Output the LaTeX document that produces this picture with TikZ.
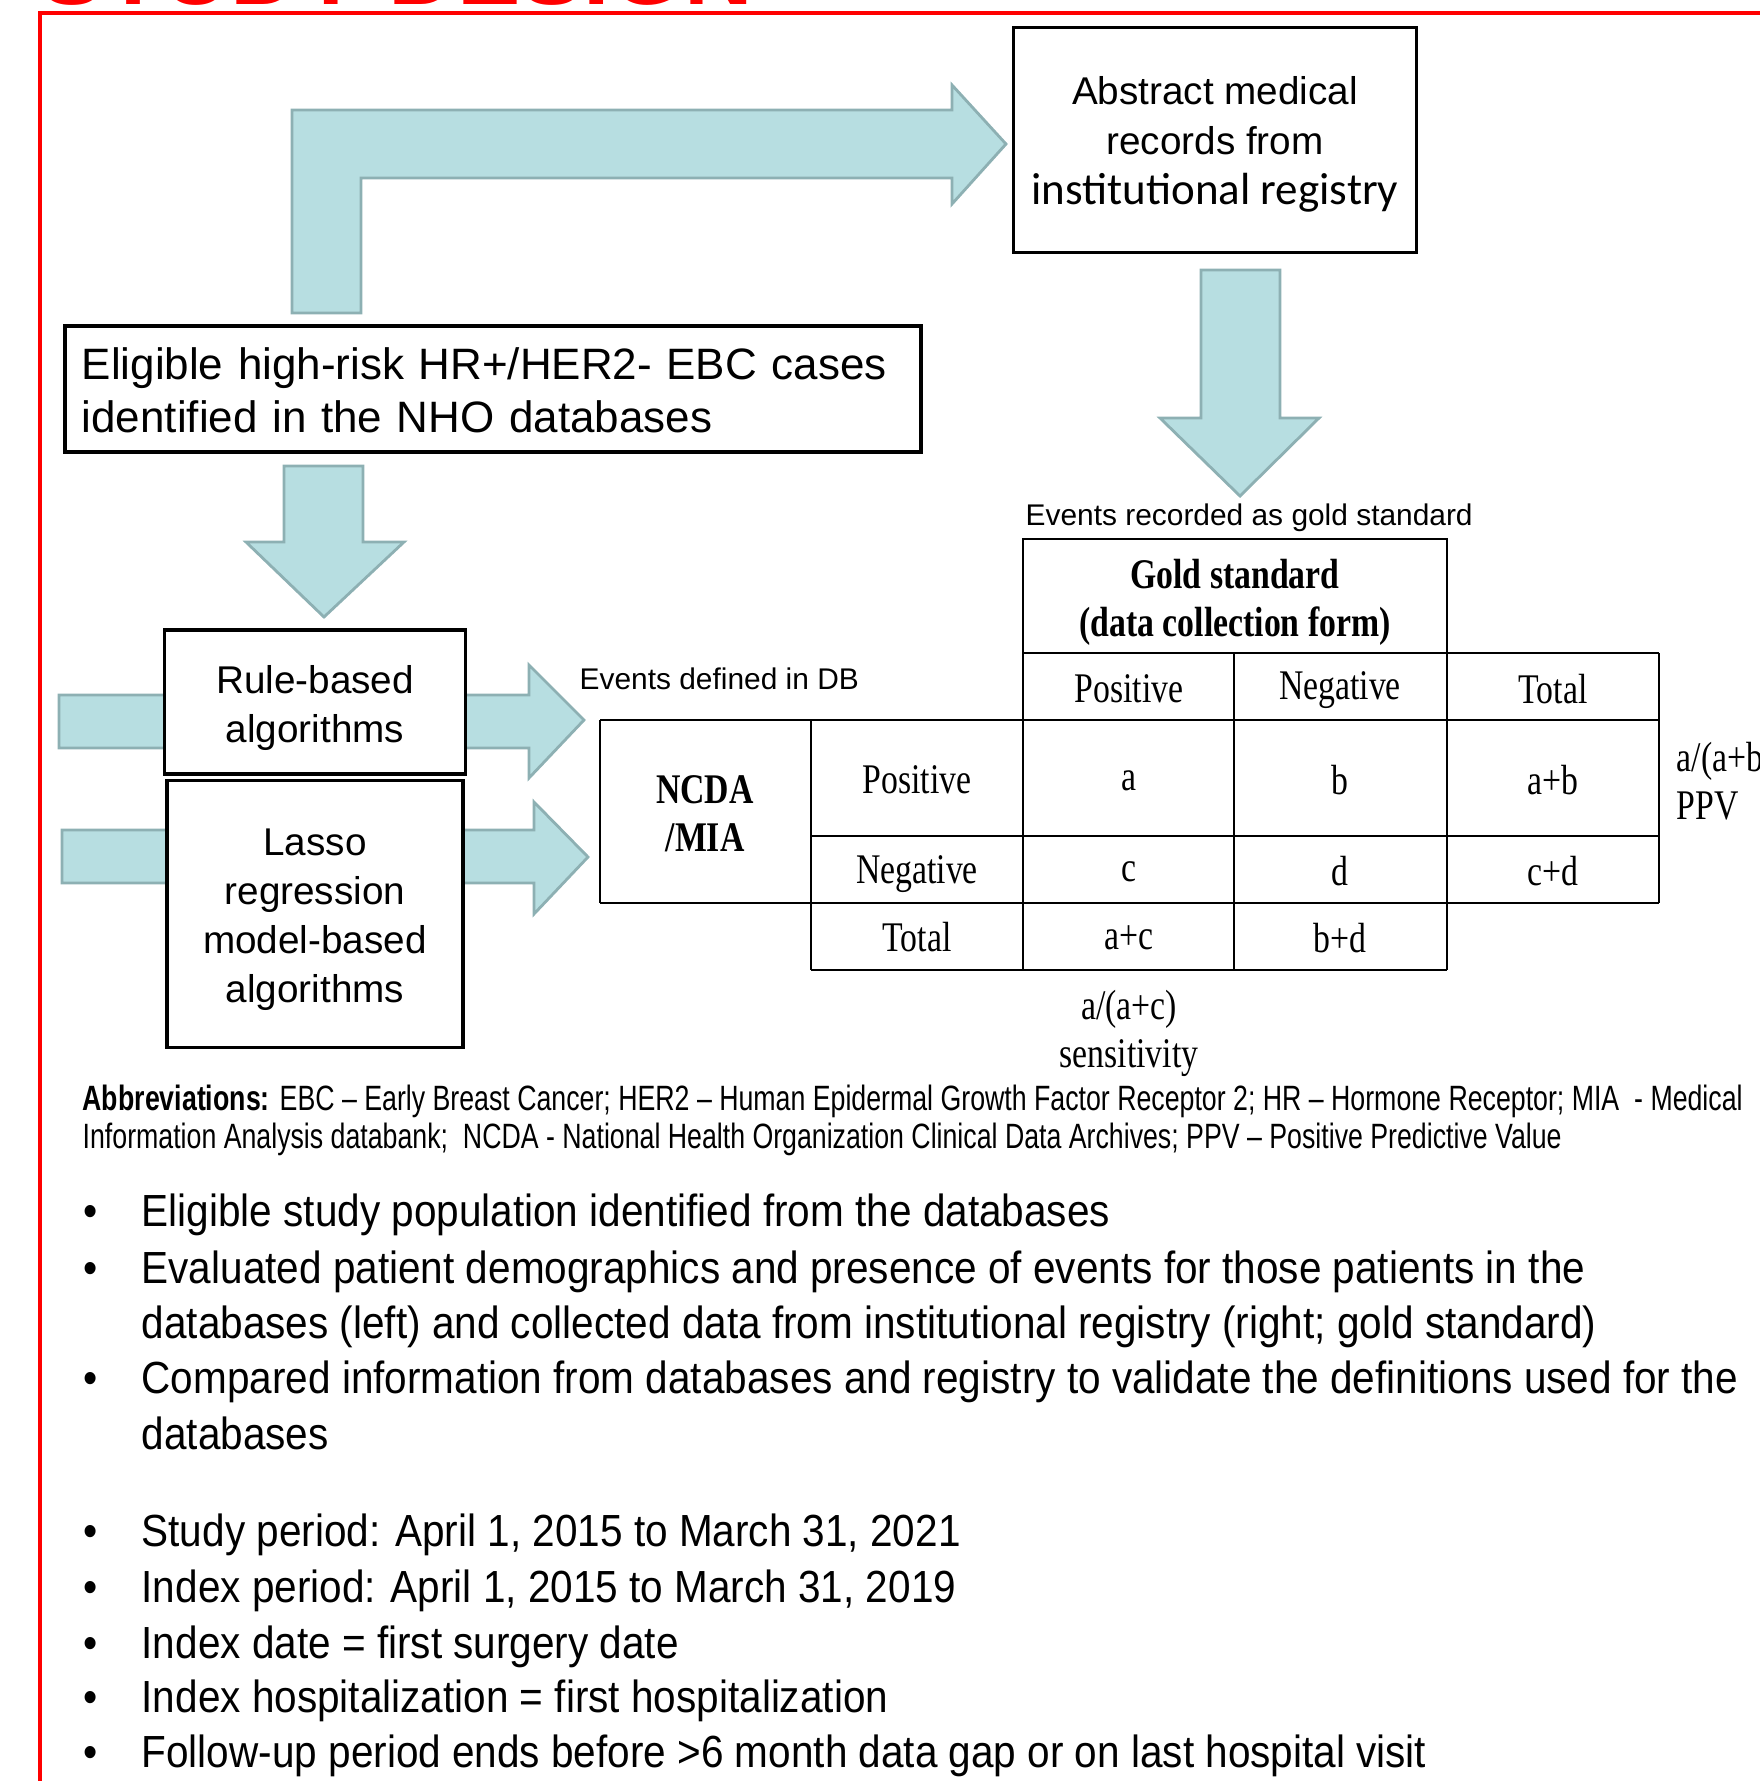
\documentclass[tikz,border=0pt]{standalone}
\usepackage{fontspec}
\setmainfont{Liberation Sans}
\newfontfamily\narrowfont[FakeStretch=0.9]{Liberation Sans}
\newfontfamily\abbrfont[FakeStretch=0.76]{Liberation Sans}
\newfontfamily\tabfont[FakeStretch=0.8]{Liberation Serif}
\newfontfamily\calfont{Carlito}
\definecolor{arrowfill}{HTML}{B7DEE1}
\definecolor{arrowline}{HTML}{8DB0B3}
\tikzset{
  flowbox/.style={draw, line width=1pt, fill=white, inner sep=0pt},
  boxtext/.style={inner sep=0pt, align=center, font=\fontsize{11}{13.9}\selectfont},
  fatarrow/.style={fill=arrowfill, draw=arrowline, line width=0.8pt, line join=miter},
  tabline/.style={line width=0.6pt},
  cell/.style={inner sep=0pt, align=center, font=\tabfont\fontsize{12}{13.6}\selectfont},
  smalllbl/.style={anchor=west, inner sep=0pt, font=\fontsize{8.5}{10}\selectfont},
  bulletline/.style={anchor=base west, inner sep=0pt, font=\narrowfont\fontsize{12.8}{15.6}\selectfont},
  abbrline/.style={anchor=base west, inner sep=0pt, font=\abbrfont\fontsize{10}{11}\selectfont},
}
\begin{document}
\begin{tikzpicture}[x=0.01cm, y=-0.01cm]
  \useasboundingbox (0,0) rectangle (1760,1781);
  \begin{scope}
    % title (cut off at the top) and frame
    \node[anchor=base west, inner sep=0pt, text=red, font=\bfseries\fontsize{27}{30}\selectfont] (title) at (40,4) {STUDY DESIGN};
    \draw[red, line width=1.4pt] (40,1790) -- (40,13) -- (1770,13);

    % block arrows
    \draw[fatarrow] (292,313) -- (292,110) -- (952,110) -- (952,85) -- (1006,144) -- (952,204) -- (952,178) -- (361,178) -- (361,313) -- cycle;
    \draw[fatarrow] (1201,270) -- (1280,270) -- (1280,418) -- (1319,418) -- (1240,496) -- (1160,418) -- (1201,418) -- cycle;
    \draw[fatarrow] (284,466) -- (363,466) -- (363,542) -- (404,542) -- (324,617) -- (246,542) -- (284,542) -- cycle;
    \draw[fatarrow] (59,695) -- (529,695) -- (529,665) -- (584,720) -- (529,778) -- (529,748) -- (59,748) -- cycle;
    \draw[fatarrow] (62,830) -- (534,830) -- (534,802) -- (588,857) -- (534,914) -- (534,883) -- (62,883) -- cycle;

    % boxes
    \node[flowbox, minimum width=4.03cm, minimum height=2.25cm] (abstr) at (1215,140) {};
    \node[boxtext, font=\fontsize{11}{14.2}\selectfont] (abstrtxt) at (1215,144)
      {Abstract medical\\ records from\\ {\calfont\fontsize{12.8}{14.2}\selectfont institutional registry}};
    \node[flowbox, minimum width=8.56cm, minimum height=1.26cm] (elig) at (493,389) {};
    \node[boxtext, text width=8.22cm, align=left, font=\fontsize{12.5}{15.1}\selectfont] (eligtxt) at (493,390)
      {Eligible high-risk HR+/HER2- EBC cases\\ identified in the NHO databases};
    \node[flowbox, minimum width=3.01cm, minimum height=1.44cm] (rulebox) at (315,702) {};
    \node[boxtext] (ruletxt) at (315,708) {Rule-based\\ algorithms};
    \node[flowbox, minimum width=2.96cm, minimum height=2.67cm] (lassobox) at (315,914) {};
    \node[boxtext] (lassotxt) at (315,920) {Lasso\\ regression\\ model-based\\ algorithms};

    \node[smalllbl] (goldlbl) at (1025,518) {Events recorded as gold standard};
    \node[smalllbl] (dblbl) at (579,679) {Events defined in DB};

    % 2x2 table
    \draw[tabline] (1023,539) rectangle (1447,653);
    \draw[tabline] (1023,653) -- (1659,653);
    \draw[tabline] (600,720) -- (1659,720);
    \draw[tabline] (811,836) -- (1659,836);
    \draw[tabline] (600,903) -- (1659,903);
    \draw[tabline] (811,970) -- (1447,970);
    \draw[tabline] (600,720) -- (600,903);
    \draw[tabline] (811,720) -- (811,970);
    \draw[tabline] (1023,653) -- (1023,970);
    \draw[tabline] (1234,653) -- (1234,970);
    \draw[tabline] (1447,653) -- (1447,970);
    \draw[tabline] (1659,653) -- (1659,903);

    \node[cell, font=\tabfont\bfseries\fontsize{12}{13.6}\selectfont] (gold) at (1235,602) {Gold standard\\ (data collection form)};
    \node[cell] (hpos) at (1129,689) {Positive};
    \node[cell] (hneg) at (1340,690) {Negative};
    \node[cell] (htot) at (1553,689) {Total};
    \node[cell, font=\tabfont\bfseries\fontsize{12}{13.6}\selectfont] (ncda) at (705,814) {NCDA\\ /MIA};
    \node[cell] (rpos) at (917,780) {Positive};
    \node[cell] (rneg) at (917,874) {Negative};
    \node[cell] (rtot) at (917,937) {Total};
    \node[cell] (ca) at (1129,781) {a};
    \node[cell] (cb) at (1340,780) {b};
    \node[cell] (cab) at (1553,780) {a+b};
    \node[cell] (cc) at (1129,872) {c};
    \node[cell] (cd) at (1340,871) {d};
    \node[cell] (ccd) at (1553,871) {c+d};
    \node[cell] (cac) at (1129,938) {a+c};
    \node[cell] (cbd) at (1340,938) {b+d};
    \node[cell] (sens) at (1129,1033) {a/(a+c)\\ sensitivity};
    \node[cell, anchor=west, align=left] (ppv) at (1676,781) {a/(a+b)\\ PPV};

    % abbreviations
    \node[abbrline] (abbr1) at (82,1110) {\textbf{Abbreviations:} EBC – Early Breast Cancer; HER2 – Human Epidermal Growth Factor Receptor 2; HR – Hormone Receptor; MIA \ - Medical};
    \node[abbrline] (abbr2) at (82,1148) {Information Analysis databank; \ NCDA - National Health Organization Clinical Data Archives; PPV – Positive Predictive Value};

    % bullet list
    \node[bulletline] (b1) at (83,1226) {•};
    \node[bulletline] (t1) at (141,1226) {Eligible study population identified from the databases};
    \node[bulletline] (b2) at (83,1283) {•};
    \node[bulletline] (t2) at (141,1283) {Evaluated patient demographics and presence of events for those patients in the};
    \node[bulletline] (t2b) at (141,1338) {databases (left) and collected data from institutional registry (right; gold standard)};
    \node[bulletline] (b3) at (83,1393) {•};
    \node[bulletline] (t3) at (141,1393) {Compared information from databases and registry to validate the definitions used for the};
    \node[bulletline] (t3b) at (141,1449) {databases};
    \node[bulletline] (b4) at (83,1546) {•};
    \node[bulletline] (t4) at (141,1546) {Study period: April 1, 2015 to March 31, 2021};
    \node[bulletline] (b5) at (83,1602) {•};
    \node[bulletline] (t5) at (141,1602) {Index period: April 1, 2015 to March 31, 2019};
    \node[bulletline] (b6) at (83,1658) {•};
    \node[bulletline] (t6) at (141,1658) {Index date = first surgery date};
    \node[bulletline] (b7) at (83,1712) {•};
    \node[bulletline] (t7) at (141,1712) {Index hospitalization = first hospitalization};
    \node[bulletline] (b8) at (83,1767) {•};
    \node[bulletline] (t8) at (141,1767) {Follow-up period ends before >6 month data gap or on last hospital visit};
  \end{scope}
\end{tikzpicture}
\end{document}
